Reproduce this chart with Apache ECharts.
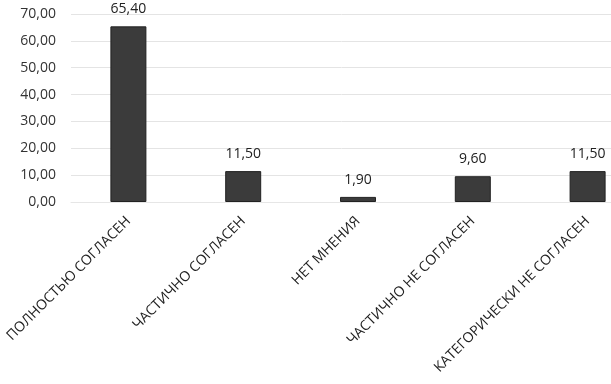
<!DOCTYPE html>
<html><head><meta charset="utf-8">
<script src="https://cdn.jsdelivr.net/npm/echarts@6/dist/echarts.min.js"></script>
<style>html,body{margin:0;padding:0;background:#fff}#c{width:611px;height:384px}</style>
</head><body><div id="c"></div>
<script>
const categories = ['ПОЛНОСТЬЮ СОГЛАСЕН','ЧАСТИЧНО СОГЛАСЕН','НЕТ МНЕНИЯ','ЧАСТИЧНО НЕ СОГЛАСЕН','КАТЕГОРИЧЕСКИ НЕ СОГЛАСЕН'];
const values = [65.4, 11.5, 1.9, 9.6, 11.5];
const yMin = 0, yMax = 70, yStep = 10;
const fmt = v => v.toFixed(2).replace('.', ',');
const chart = echarts.init(document.getElementById('c'));
chart.setOption({
  animation: false,
  textStyle: {fontFamily: 'Open Sans'},
  grid: {left: 71, top: 14, right: -34, bottom: 182, containLabel: false, outerBoundsMode: 'none'},
  xAxis: {
    type: 'category', data: categories,
    axisLine: {show: true, lineStyle: {color: '#e6e6e6'}},
    axisTick: {show: false},
    axisLabel: {rotate: 45, interval: 0, color: '#222', fontSize: 14, margin: 17, fontFamily: 'Open Sans'}
  },
  yAxis: {
    type: 'value', min: yMin, max: yMax, interval: yStep,
    axisLine: {show: false}, axisTick: {show: false},
    splitLine: {lineStyle: {color: '#e4e4e4'}},
    axisLabel: {formatter: fmt, color: '#333', fontSize: 14, margin: 15, fontFamily: 'Open Sans'}
  },
  series: [{
    type: 'bar', data: values, barWidth: 36,
    itemStyle: {color: '#3b3b3b', borderColor: '#222', borderWidth: 1},
    label: {show: true, position: 'top', distance: 10, formatter: p => fmt(p.value), color: '#222', fontSize: 14, fontFamily: 'Open Sans'}
  }]
});
</script></body></html>
